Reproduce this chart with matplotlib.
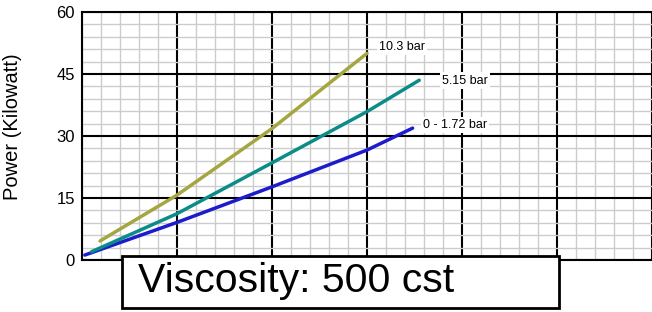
import matplotlib
matplotlib.use("Agg")
import matplotlib.pyplot as plt
from matplotlib.patches import Rectangle
from matplotlib.ticker import MultipleLocator

# values (x has no printed scale, 0..60)
low_x = [0.3, 10, 20, 30, 34.8]
low_y = [1.2, 9.1, 17.7, 26.6, 31.9]
mid_x = [1.0, 10, 20, 30, 35.5]
mid_y = [2.0, 11.2, 23.5, 35.9, 43.5]
high_x = [1.9, 10, 20, 30]
high_y = [4.6, 15.7, 31.8, 50.0]

labels = ["0 - 1.72 bar", "5.15 bar", "10.3 bar"]
y_ticks = [0, 15, 30, 45, 60]

plt.rcParams['font.family'] = ['Liberation Sans', 'DejaVu Sans']

fig = plt.figure(figsize=(6.52, 3.12), dpi=100)
ax = fig.add_axes([82 / 652, 52 / 312, 570 / 652, 248 / 312])

ax.set_xlim(0, 60)
ax.set_ylim(0, 60)
ax.xaxis.set_major_locator(MultipleLocator(10))
ax.xaxis.set_minor_locator(MultipleLocator(2))
ax.set_yticks(y_ticks)
ax.yaxis.set_minor_locator(MultipleLocator(3))
ax.set_xticklabels([])
ax.tick_params(which='both', length=0)
ax.tick_params(axis='y', labelsize=12, pad=5)

ax.grid(which='minor', color='#cccccc', linewidth=1.0)
ax.grid(which='major', color='black', linewidth=1.5)
ax.set_axisbelow(True)

ax.spines['right'].set_visible(False)
for s in ['left', 'top', 'bottom']:
    ax.spines[s].set_linewidth(1.5)

ax.plot(low_x, low_y, color='#1c1ccc', linewidth=2.5, solid_capstyle='round')
ax.plot(mid_x, mid_y, color='#0c8c88', linewidth=2.5, solid_capstyle='round')
ax.plot(high_x, high_y, color='#a6a640', linewidth=2.5, solid_capstyle='round')

box = dict(facecolor='white', edgecolor='none', pad=1.5)
ax.text(35.9, 32.7, labels[0], fontsize=9, va='center', ha='left', bbox=box)
ax.text(37.9, 43.4, labels[1], fontsize=9, va='center', ha='left', bbox=box)
ax.text(31.3, 51.5, labels[2], fontsize=9, va='center', ha='left', bbox=box)

ax.set_ylabel("Power (Kilowatt)", fontsize=14.5)
ax.yaxis.set_label_coords(-0.105, 0.538)

# caption box over the bottom of the chart
fig.patches.append(Rectangle((122 / 652, 4 / 312), 437 / 652, 52 / 312,
                             transform=fig.transFigure, facecolor='white',
                             edgecolor='black', linewidth=2, zorder=5))
fig.text(138 / 652, 31 / 312, "Viscosity: 500 cst", fontsize=29.5,
         va='center', ha='left', zorder=6)

fig.savefig("out.png", dpi=100)
